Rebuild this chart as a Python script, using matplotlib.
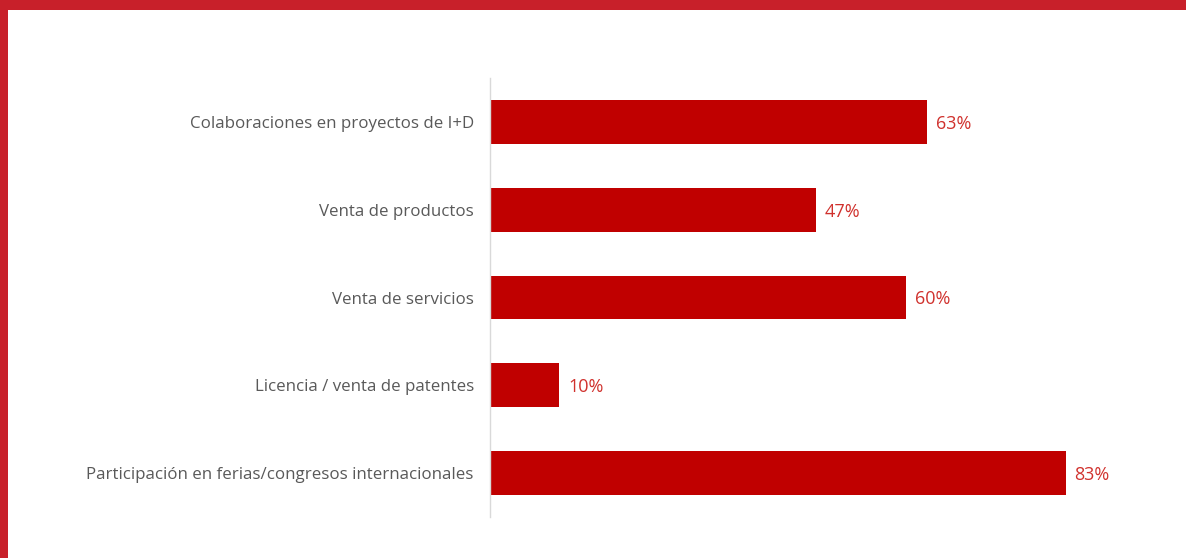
import matplotlib.pyplot as plt
from matplotlib.patches import Rectangle

plt.rcParams['font.family'] = ['Open Sans', 'DejaVu Sans']

categorias = [
    "Colaboraciones en proyectos de I+D",
    "Venta de productos",
    "Venta de servicios",
    "Licencia / venta de patentes",
    "Participación en ferias/congresos internacionales",
]
porcentajes = [63, 47, 60, 10, 83]

W, H = 1186, 558
fig = plt.figure(figsize=(W / 100, H / 100), dpi=100)
fig.patch.set_facecolor("white")

# marco rojo superior e izquierdo
borde = "#C8202A"
fig.patches.append(Rectangle((0, 1 - 10 / H), 1, 10 / H, transform=fig.transFigure,
                             facecolor=borde, edgecolor="none", zorder=0))
fig.patches.append(Rectangle((0, 0), 8 / W, 1, transform=fig.transFigure,
                             facecolor=borde, edgecolor="none", zorder=0))

ax = fig.add_axes([490 / W, 41 / H, 638 / W, 439 / H])
y = list(range(len(categorias)))
ax.barh(y, porcentajes, height=0.5, color="#C00000", edgecolor="none")
ax.set_xlim(0, 92)
ax.set_ylim(len(categorias) - 0.5, -0.5)

for yi, v in zip(y, porcentajes):
    ax.text(v + 1.3, yi, f"{v}%", va="center_baseline", ha="left",
            fontsize=13, color="#D0312D")

ax.set_yticks(y)
ax.set_yticklabels(categorias, fontsize=12.2, color="#595959", va="center_baseline")
ax.tick_params(axis="y", length=0, pad=11.7)
ax.set_xticks([])
for s in ["top", "right", "bottom"]:
    ax.spines[s].set_visible(False)
ax.spines["left"].set_color("#D9D9D9")
ax.spines["left"].set_linewidth(1)

fig.savefig("out.png", dpi=100, facecolor="white")
